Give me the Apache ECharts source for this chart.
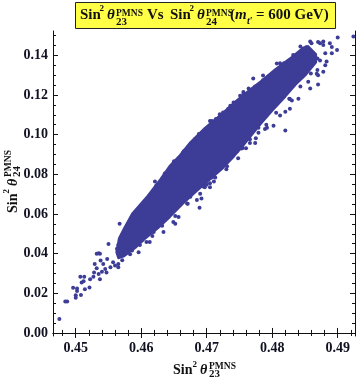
<!DOCTYPE html>
<html>
<head>
<meta charset="utf-8">
<script src="https://cdn.jsdelivr.net/npm/echarts@6/dist/echarts.min.js"></script>
<style>
  html, body { margin: 0; padding: 0; background: #fff; }
  #main { width: 360px; height: 382px; }
</style>
</head>
<body>
<div id="main"></div>
<script>
  // tick values
  const xMajor = [0.45, 0.46, 0.47, 0.48, 0.49]
  const xMinor = [0.448, 0.452, 0.454, 0.456, 0.458, 0.462, 0.464, 0.466, 0.468, 0.472, 0.474, 0.476, 0.478,
    0.482, 0.484, 0.486, 0.488, 0.492]
  const yMajor = [0, 0.02, 0.04, 0.06, 0.08, 0.10, 0.12, 0.14]
  const yMinor = [0.005, 0.01, 0.015, 0.025, 0.03, 0.035, 0.045, 0.05, 0.055, 0.065, 0.07, 0.075, 0.085, 0.09,
    0.095, 0.105, 0.11, 0.115, 0.125, 0.13, 0.135, 0.145, 0.15]

  // outline of the solid, fully packed part of the cloud (x = sin2 th23, y = sin2 th24)
  const coreX = [0.4562, 0.4566, 0.4574, 0.4586, 0.4610, 0.4629, 0.4644, 0.4659, 0.4675, 0.4697, 0.4723, 0.4745,
    0.4766, 0.4784, 0.4804, 0.4827, 0.4846, 0.4855,
    0.4867, 0.4867, 0.4852, 0.4836, 0.4820, 0.4800, 0.4784, 0.4769, 0.4754, 0.4742, 0.4723, 0.4705, 0.4684,
    0.4664, 0.4644, 0.4626, 0.4607, 0.4591, 0.4574, 0.4565]
  const coreY = [0.0407, 0.0478, 0.0529, 0.0601, 0.0692, 0.0774, 0.0845, 0.0896, 0.0962, 0.1033, 0.1105, 0.1171,
    0.1227, 0.1273, 0.1328, 0.1384, 0.1435, 0.1446,
    0.1405, 0.1364, 0.1303, 0.1252, 0.1191, 0.1120, 0.1059, 0.0998, 0.0937, 0.0891, 0.0825, 0.0774, 0.0713,
    0.0652, 0.0585, 0.0529, 0.0478, 0.0428, 0.0387, 0.0377]

  // dots sitting on the ragged rim of the packed band
  const rimPoints = [
    [0.4565, 0.0443], [0.4574, 0.0499], [0.4580, 0.0550], [0.4594, 0.0611], [0.4601, 0.0646], [0.4617, 0.0708],
    [0.4623, 0.0743], [0.4636, 0.0804], [0.4650, 0.0865], [0.4665, 0.0916], [0.4682, 0.0977], [0.4688, 0.1003],
    [0.4714, 0.1079], [0.4733, 0.1130], [0.4757, 0.1201], [0.4774, 0.1242], [0.4794, 0.1293], [0.4818, 0.1359],
    [0.4836, 0.1400], [0.4852, 0.1440],
    [0.4571, 0.0366], [0.4583, 0.0397], [0.4598, 0.0443], [0.4617, 0.0489], [0.4632, 0.0540], [0.4652, 0.0590],
    [0.4671, 0.0652], [0.4690, 0.0702], [0.4711, 0.0764], [0.4730, 0.0825], [0.4748, 0.0881], [0.4760, 0.0931],
    [0.4775, 0.0982], [0.4791, 0.1049], [0.4806, 0.1110], [0.4826, 0.1181], [0.4843, 0.1242], [0.4859, 0.1308],
    [0.4873, 0.1374]
  ]

  // separate points around the packed band
  const tailPoints = [
    [0.4475, 0.0071], [0.4484, 0.0158], [0.4487, 0.0158], [0.4496, 0.0228], [0.4500, 0.0178], [0.4500, 0.0190],
    [0.4502, 0.0212], [0.4502, 0.0224], [0.4507, 0.0284], [0.4509, 0.0255], [0.4508, 0.0192], [0.4512, 0.0261],
    [0.4513, 0.0284], [0.4514, 0.0220], [0.4521, 0.0229], [0.4522, 0.0271], [0.4527, 0.0284], [0.4528, 0.0305],
    [0.4529, 0.0348], [0.4532, 0.0326], [0.4535, 0.0297], [0.4537, 0.0271], [0.4538, 0.0365], [0.4540, 0.0309],
    [0.4542, 0.0348], [0.4535, 0.0402], [0.4532, 0.0399], [0.4537, 0.0399], [0.4545, 0.0322], [0.4547, 0.0305],
    [0.4548, 0.0373], [0.4550, 0.0449], [0.4553, 0.0331], [0.4557, 0.0356], [0.4560, 0.0340], [0.4565, 0.0348],
    [0.4565, 0.0331], [0.4563, 0.0424], [0.4567, 0.0551], [0.4570, 0.0399], [0.4578, 0.0416], [0.4586, 0.0416],
    [0.4596, 0.0407], [0.4586, 0.0441], [0.4601, 0.0467], [0.4608, 0.0458], [0.4613, 0.0458], [0.4598, 0.0518],
    [0.4606, 0.0500], [0.4619, 0.0509], [0.4624, 0.0543], [0.4629, 0.0551], [0.4634, 0.0509], [0.4641, 0.0602],
    [0.4602, 0.0631]
  ]
  const midPoints = [
    [0.4689, 0.0631], [0.4685, 0.0670], [0.4670, 0.0653], [0.4657, 0.0585], [0.4649, 0.0560], [0.4636, 0.0569],
    [0.4695, 0.0738], [0.4700, 0.0747], [0.4692, 0.0678], [0.4675, 0.0687], [0.4652, 0.0551], [0.4705, 0.0734],
    [0.4697, 0.0734], [0.4705, 0.0755], [0.4708, 0.0784], [0.4713, 0.0784], [0.4723, 0.0835], [0.4731, 0.0840],
    [0.4723, 0.0865], [0.4736, 0.0891], [0.4741, 0.0916], [0.4746, 0.0916], [0.4755, 0.0933], [0.4766, 0.0958],
    [0.4774, 0.0958], [0.4779, 0.1009], [0.4779, 0.1035], [0.4621, 0.0764], [0.4664, 0.0908], [0.4705, 0.1069],
    [0.4720, 0.1103], [0.4736, 0.1145], [0.4751, 0.1196], [0.4753, 0.0930], [0.4741, 0.0908], [0.4728, 0.0865],
    [0.4713, 0.0840], [0.4756, 0.1205], [0.4741, 0.1162], [0.4725, 0.1111], [0.4708, 0.1069]
  ]
  const topPoints = [
    [0.4820, 0.1020], [0.4766, 0.0977], [0.4789, 0.1028], [0.4802, 0.1045], [0.4827, 0.1130], [0.4830, 0.1172],
    [0.4812, 0.1096], [0.4840, 0.1181], [0.4858, 0.1232], [0.4870, 0.1252], [0.4855, 0.1266], [0.4870, 0.1299],
    [0.4878, 0.1317], [0.4869, 0.1325], [0.4881, 0.1350], [0.4883, 0.1368], [0.4869, 0.1384], [0.4881, 0.1410],
    [0.4891, 0.1410], [0.4899, 0.1427], [0.4888, 0.1461], [0.4873, 0.1461], [0.4878, 0.1452], [0.4858, 0.1469],
    [0.4860, 0.1461], [0.4878, 0.1469], [0.4900, 0.1490], [0.4924, 0.1495], [0.4845, 0.1410], [0.4832, 0.1401],
    [0.4843, 0.1444], [0.4852, 0.1439], [0.4853, 0.1334], [0.4848, 0.1368], [0.4812, 0.1359], [0.4786, 0.1274],
    [0.4771, 0.1283], [0.4779, 0.1249], [0.4764, 0.1232], [0.4756, 0.1215], [0.4891, 0.1442], [0.4870, 0.1467],
    [0.4848, 0.1434], [0.4868, 0.1307], [0.4827, 0.1179], [0.4820, 0.1115], [0.4792, 0.1035], [0.4807, 0.1358],
    [0.4786, 0.1298]
  ]

  const dotColor = '#3d3d98'
  const tickColor = '#111122'
  const serif = '"Liberation Serif", "DejaVu Serif", serif'

  function piece(text, x, y, size, italic) {
    return {
      type: 'text',
      x: x,
      y: y,
      style: {
        text: text,
        font: (italic ? 'italic ' : '') + 'bold ' + size + 'px ' + serif,
        fill: '#111',
        verticalAlign: 'middle',
        textVerticalAlign: 'middle'
      }
    }
  }

  // Sin^2 theta with a stacked PMNS / index, laid out along a baseline
  function sinTheta(idx, x, y, rotation, big, sub) {
    return {
      type: 'group',
      x: x,
      y: y,
      rotation: rotation,
      children: [
        piece('Sin', 0, 0, big),
        piece('2', 19.5, -6, 9),
        piece('\u03b8', 27, 0, big, true),
        piece('PMNS', 36, sub[0], 9.5),
        piece(idx, 36, sub[1], 11)
      ]
    }
  }

  function axisPair(kind, pos, ticks, len, isMain, values) {
    const ax = {
      type: 'value',
      position: pos,
      min: kind === 'x' ? 0.44653 : -0.00153,
      max: kind === 'x' ? 0.49264 : 0.15222,
      axisLine: { show: isMain, lineStyle: { color: '#111', width: 1 } },
      axisTick: { show: true, inside: true, length: len, customValues: ticks, lineStyle: { color: '#111', width: 1 } },
      splitLine: { show: false },
      axisLabel: { show: false }
    }
    if (values) {
      ax.axisLabel = {
        show: true,
        customValues: values,
        formatter: v => v.toFixed(2),
        color: tickColor,
        fontFamily: serif,
        fontWeight: 'bold',
        fontSize: 14,
        margin: 5
      }
    }
    return ax
  }

  const chart = echarts.init(document.getElementById('main'))
  chart.setOption({
    animation: false,
    backgroundColor: '#fff',
    grid: { left: 53, right: 5, top: 31, bottom: 46, containLabel: false },
    xAxis: [
      axisPair('x', 'bottom', xMajor, 5, true, xMajor),
      axisPair('x', 'bottom', xMinor, 3, false),
      axisPair('x', 'top', xMajor, 5, true),
      axisPair('x', 'top', xMinor, 3, false)
    ],
    yAxis: [
      axisPair('y', 'left', yMajor, 5, true, yMajor),
      axisPair('y', 'left', yMinor, 3, false),
      axisPair('y', 'right', yMajor, 5, true),
      axisPair('y', 'right', yMinor, 3, false)
    ],
    series: [
      {
        type: 'custom',
        xAxisIndex: 0,
        yAxisIndex: 0,
        silent: true,
        clip: true,
        data: [[coreX[0], coreY[0]]],
        renderItem: function (params, api) {
          const pts = coreX.map((x, i) => api.coord([x, coreY[i]]))
          return {
            type: 'polygon',
            shape: { points: pts },
            style: { fill: dotColor, stroke: dotColor, lineWidth: 2, lineJoin: 'round' }
          }
        }
      },
      {
        type: 'scatter',
        xAxisIndex: 0,
        yAxisIndex: 0,
        symbol: 'circle',
        symbolSize: 4,
        itemStyle: { color: dotColor, opacity: 1 },
        silent: true,
        data: rimPoints.concat(tailPoints, midPoints, topPoints)
      }
    ],
    graphic: [
      {
        type: 'rect',
        shape: { x: 75.5, y: 2.5, width: 260, height: 26 },
        style: { fill: '#ffff45', stroke: '#222', lineWidth: 1 }
      },
      sinTheta('23', 80, 15, 0, 15, [-1.5, 7]),
      piece('Vs', 147, 15, 15),
      sinTheta('24', 170, 15, 0, 15, [-1.5, 7]),
      piece('(', 230, 15, 15),
      piece('m', 235, 15, 15, true),
      piece('t\u2032', 247, 21, 10, true),
      piece('= 600 GeV)', 256, 15, 15),
      sinTheta('23', 173, 370.5, 0, 14, [-4, 4]),
      sinTheta('24', 13, 213, Math.PI / 2, 14, [-4, 4])
    ]
  })
</script>
</body>
</html>
